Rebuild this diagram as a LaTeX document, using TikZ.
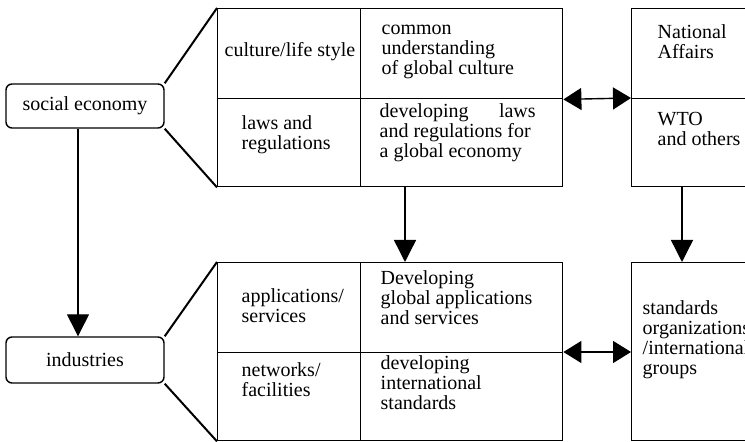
\documentclass[tikz,border=0pt]{standalone}
\usepackage{fontspec}
\setmainfont{Liberation Serif}
\usetikzlibrary{arrows.meta}

\begin{document}
\begin{tikzpicture}[x=0.5pt, y=-0.5pt, line width=0.7pt,
  cell/.style={draw,rectangle,anchor=north west,inner sep=0pt},
  side node/.style={draw,rectangle,rounded corners=3pt,minimum width=79pt,inner sep=0pt},
  txt/.style={anchor=north west,inner sep=0pt,align=left},
  arr/.style={-{Triangle[width=11pt,length=11pt]}},
  dbl/.style={{Triangle[width=11pt,length=9pt]}-{Triangle[width=11pt,length=9pt]}}]
\useasboundingbox (0,0) rectangle (745,442);
\begin{scope}[every node/.style={font=\fontsize{10}{10}\selectfont}]
% left boxes
\node[side node,minimum height=22pt] (soc) at (85,106) {social economy\hspace{7pt}};
\node[side node,minimum height=23pt] (ind) at (85,360) {industries};
% upper table
\node[cell,minimum width=71.5pt,minimum height=45pt] (cul) at (217,8) {};
\node[cell,minimum width=71.5pt,minimum height=44pt] (law) at (217,98) {};
\node[cell,minimum width=101pt,minimum height=45pt] (com) at (360,8) {};
\node[cell,minimum width=101pt,minimum height=44pt] (dev) at (360,98) {};
\node[cell,minimum width=70pt,minimum height=45pt] (nat) at (631,8) {};
\node[cell,minimum width=70pt,minimum height=44pt] (wto) at (631,98) {};
% lower table
\node[cell,minimum width=71.5pt,minimum height=45pt] (app) at (217,262) {};
\node[cell,minimum width=71.5pt,minimum height=44pt] (net) at (217,352) {};
\node[cell,minimum width=101pt,minimum height=45pt] (dga) at (360,262) {};
\node[cell,minimum width=101pt,minimum height=44pt] (dis) at (360,352) {};
\node[cell,minimum width=70pt,minimum height=89pt] (std) at (631,262) {};
% texts
\node[txt] (cul-t) at (224,42) {culture/life style};
\node[txt] (law-t) at (241,115) {laws and\\regulations};
\node[txt] (com-t) at (381,24) {common\\understanding\\of global culture};
\node[txt] (dev-t) at (379,103) {\hbox to 78pt{developing\hfill laws}\\and regulations for\\a global economy};
\node[txt] (nat-t) at (657,24) {National\\Affairs};
\node[txt] (wto-t) at (657,112) {WTO\\and others};
\node[txt] (app-t) at (241,288) {applications/\\services};
\node[txt] (net-t) at (241,362) {networks/\\facilities};
\node[txt] (dga-t) at (380,270) {Developing\\global applications\\and services};
\node[txt] (dis-t) at (380,355) {developing\\international\\standards};
\node[txt] (std-t) at (642,300) {standards\\organizations\\/international\\groups};
\end{scope}
\begin{scope}
\draw[line width=1pt] (soc.north east) -- (cul.north west);
\draw[line width=1pt] (soc.south east) -- (law.south west);
\draw[line width=1pt] (ind.north east) -- (app.north west);
\draw[line width=1pt] (ind.south east) -- (net.south west);
\draw[arr] ([xshift=-3.5pt]soc.south) -- ([xshift=-3.5pt]ind.north);
\draw[arr] ([xshift=22.5pt]dev.south west) -- ([xshift=22.5pt]dga.north west);
\draw[arr] ([xshift=25.5pt]wto.south west) -- ([xshift=25.5pt]std.north west);
\draw[dbl] (com.south east) -- (wto.north west);
\draw[dbl] (dis.north east) -- (dis.north east -| std.west);
\end{scope}
\end{tikzpicture}
\end{document}
